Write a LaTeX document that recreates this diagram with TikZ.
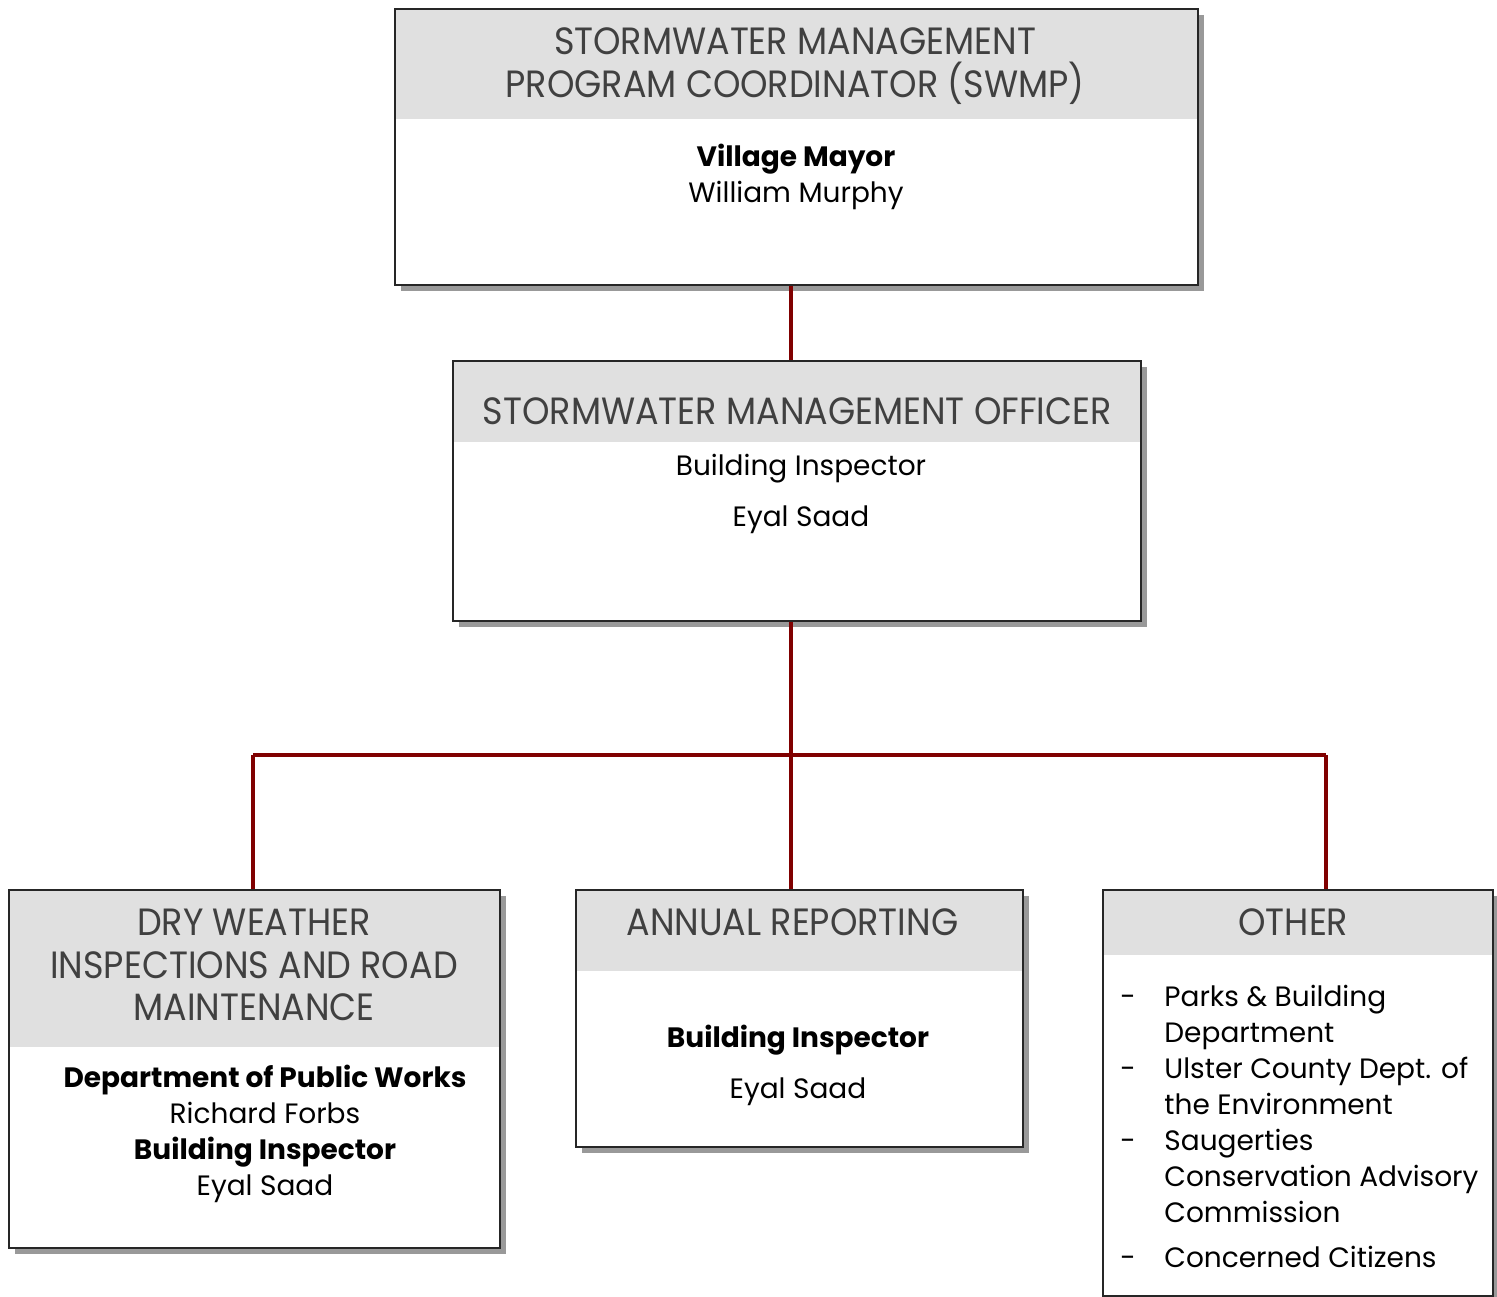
\documentclass[tikz,border=0pt]{standalone}
\usepackage{fontspec}
\setmainfont{Poppins}
\newfontfamily\headfont[FakeStretch=0.92]{Poppins}
\usetikzlibrary{shadows}

\definecolor{linkred}{HTML}{800000}
\definecolor{headgray}{HTML}{E0E0E0}
\definecolor{headtext}{HTML}{404040}

\begin{document}
\begin{tikzpicture}[x = 0.5pt, y = -0.5pt,
    box/.style = { draw = black!85, line width = 1pt, fill = white, anchor = north west, inner sep = 0pt,
      general shadow = { fill = black!40, shadow xshift = 3pt, shadow yshift = -3pt },
      path picture = { \fill[headgray] (path picture bounding box.north west) rectangle ([yshift = -#1]path picture bounding box.north east); } },
    head/.style = { font = \headfont\fontsize{19}{21.25}\selectfont, text = headtext, align = center, inner sep = 0pt },
    body/.style = { font = \fontsize{14}{18}\selectfont, align = center, inner sep = 0pt },
    link/.style = { draw = linkred, line width = 2pt }]
    \useasboundingbox (0,0) rectangle (1497,1296);

    % boxes
    \node [box = 55pt, minimum width = 401.5pt, minimum height = 138pt] (coord) at (394,8) {};
    \node [box = 40.5pt, minimum width = 344pt, minimum height = 130pt] (officer) at (452,360) {};
    \node [box = 78.5pt, minimum width = 245.5pt, minimum height = 179pt] (dry) at (8,889) {};
    \node [box = 40.5pt, minimum width = 223.5pt, minimum height = 128.5pt] (annual) at (575,889) {};
    \node [box = 32.5pt, minimum width = 195pt, minimum height = 203pt] (other) at (1102,889) {};

    % headers
    \node [head] (coordHead) at (795,66) { STORMWATER MANAGEMENT \\ PROGRAM COORDINATOR (SWMP) };
    \node [head] (officerHead) at (802,411) { STORMWATER MANAGEMENT OFFICER };
    \node [head] (dryHead) at (254,965) { DRY WEATHER \\ INSPECTIONS AND ROAD \\ MAINTENANCE };
    \node [head] (annualHead) at (797,922) { ANNUAL REPORTING };
    \node [head] (otherHead) at (1298,922) { OTHER };

    % names
    \node [body] (coordBody) at (796,177) { \textbf{Village Mayor} \\ William Murphy };
    \node [body] (officerBody) at (801,493.5) { Building Inspector \\[7.5pt] Eyal Saad };
    \node [body] (dryBody) at (265,1134) { \textbf{Department of Public Works} \\ Richard Forbs \\
      \textbf{Building Inspector} \\ Eyal Saad };
    \node [body] (annualBody) at (798,1065.5) { \textbf{Building Inspector} \\[7.5pt] Eyal Saad };
    \node [body, align = left, anchor = north west] (otherBody) at (1120,985) {
      \makebox[22pt][l]{-}Parks \& Building \\ \hspace*{22pt}Department \\
      \makebox[22pt][l]{-}Ulster County Dept. of \\ \hspace*{22pt}the Environment \\
      \makebox[22pt][l]{-}Saugerties \\ \hspace*{22pt}Conservation Advisory \\ \hspace*{22pt}Commission \\[4.5pt]
      \makebox[22pt][l]{-}Concerned Citizens };

    % connectors
    \coordinate (hub) at (791,755);
    \coordinate (hubL) at (253,755);
    \coordinate (hubR) at (1326,755);
    \draw [link] (coord.south -| hub) -- (officer.north -| hub);
    \draw [link] (officer.south -| hub) -- (hub);
    \draw [link] (hubL) -- (hubR);
    \draw [link] (hubL) -- (dry.north -| hubL);
    \draw [link] (hub) -- (annual.north -| hub);
    \draw [link] (hubR) -- (other.north -| hubR);
\end{tikzpicture}
\end{document}
